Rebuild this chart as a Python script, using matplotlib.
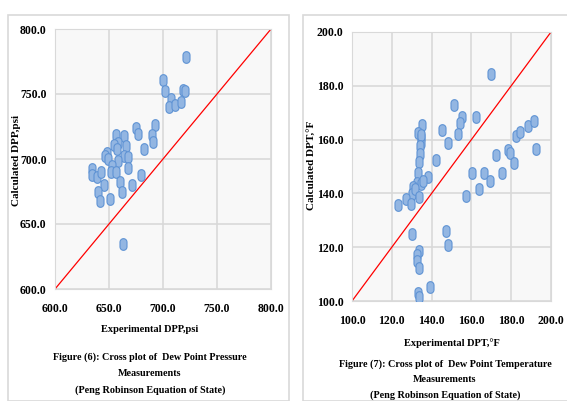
import numpy as np
import matplotlib
matplotlib.use("Agg")
import matplotlib.pyplot as plt
from matplotlib.path import Path
from matplotlib.patches import Rectangle

# Figure (6) : pression de rosée (psi)
dpp_exp = [721.3, 700.0, 701.9, 718.5, 720.0, 707.4, 705.6, 711.0, 716.7,
           675.3, 677.1, 692.6, 689.5, 690.7, 682.7, 656.8, 663.6, 658.6,
           654.3, 665.4, 648.0, 646.3, 649.4, 663.6, 667.9, 667.3, 658.6,
           652.5, 651.9, 656.8, 634.6, 633.9, 638.9, 642.6, 645.0, 640.1,
           641.4, 650.6, 659.8, 661.7, 671.6, 679.6, 663.0, 657.0]
dpp_calc = [778.5, 760.8, 752.3, 753.0, 752.5, 746.0, 740.0, 741.5, 743.8,
            723.8, 719.2, 725.9, 718.7, 713.0, 707.9, 718.7, 717.7, 712.1,
            711.0, 710.0, 705.0, 702.3, 699.8, 702.3, 701.3, 693.0, 698.7,
            695.0, 690.0, 690.0, 692.0, 687.5, 686.4, 690.0, 679.8, 675.0,
            667.5, 669.0, 682.3, 674.6, 679.8, 687.5, 634.6, 708.0]

# Figure (7) : température de rosée (°F)
dpt_exp = [170.0, 151.3, 155.3, 154.3, 162.3, 145.4, 153.3, 148.2, 142.2,
           138.2, 135.2, 133.2, 134.8, 134.5, 134.5, 134.2, 134.2, 133.9,
           133.2, 132.5, 134.5, 135.8, 130.8, 130.2, 131.5, 127.1, 129.5,
           123.1, 133.5, 130.2, 133.9, 132.5, 132.8, 133.5, 147.2, 148.2,
           139.2, 133.2, 133.9, 157.3, 160.3, 163.7, 166.3, 169.3, 172.4,
           175.4, 178.4, 179.4, 181.4, 182.4, 184.4, 188.4, 191.5, 192.5]
dpt_calc = [184.4, 172.8, 168.5, 166.3, 168.3, 163.6, 162.1, 158.6, 152.6,
            146.2, 165.3, 162.3, 161.1, 158.6, 161.8, 157.6, 154.6, 151.7,
            147.5, 144.0, 143.5, 144.5, 142.5, 139.8, 141.5, 138.0, 136.0,
            135.8, 138.8, 124.9, 118.7, 117.0, 115.0, 112.3, 126.2, 120.7,
            105.3, 103.1, 101.6, 139.0, 147.5, 141.8, 147.5, 144.7, 154.4,
            147.7, 156.1, 154.9, 151.2, 161.3, 162.8, 165.1, 166.8, 156.4]

plt.rcParams['font.family'] = ['Liberation Serif', 'DejaVu Serif']
plt.rcParams['font.weight'] = 'bold'

# marqueur en forme de pilule verticale
t = np.linspace(0, np.pi, 12)
top = np.column_stack([0.3 * np.cos(t), 0.2 + 0.3 * np.sin(t)])
bot = np.column_stack([-0.3 * np.cos(t), -0.2 - 0.3 * np.sin(t)])
verts = np.vstack([top, bot, top[:1]])
pill = Path(verts, closed=True)

W, H = 567, 401
fig = plt.figure(figsize=(W / 100, H / 100), dpi=100)

# cadres des deux figures
fig.patches.append(Rectangle((8 / W, 0), 281 / W, 1 - 15 / H, transform=fig.transFigure,
                             fill=False, edgecolor='#d9d9d9', lw=1.2))
fig.patches.append(Rectangle((303 / W, 0), 270 / W, 1 - 15 / H, transform=fig.transFigure,
                             fill=False, edgecolor='#d9d9d9', lw=1.2))


def cross_plot(rect, x, y, lo, hi, step, xlabel, ylabel, ylab_pos, xlab_pos):
    ax = fig.add_axes([rect[0] / W, 1 - (rect[1] + rect[3]) / H, rect[2] / W, rect[3] / H])
    ax.set_facecolor('#f8f8f8')
    ax.plot([lo, hi], [lo, hi], color='#ff0000', lw=0.9, zorder=2)
    ax.scatter(x, y, marker=pill, s=70, facecolor='#93b6e2', edgecolor='#5f93d4',
               linewidths=0.8, zorder=3)
    ticks = np.arange(lo, hi + step / 2, step)
    ax.set_xlim(lo, hi)
    ax.set_ylim(lo, hi)
    ax.set_xticks(ticks)
    ax.set_yticks(ticks)
    ax.set_xticklabels([f"{v:.1f}" for v in ticks], fontweight='bold')
    ax.set_yticklabels([f"{v:.1f}" for v in ticks], fontweight='bold')
    ax.grid(True, color='#d9d9d9', lw=1.2)
    ax.set_axisbelow(True)
    for s in ax.spines.values():
        s.set_color('#d9d9d9')
    ax.tick_params(length=0, labelsize=8.5)
    ax.tick_params(axis='x', pad=10)
    ax.tick_params(axis='y', pad=6)
    ax.set_xlabel(xlabel, fontsize=7.5, fontweight='bold', va='center')
    ax.set_ylabel(ylabel, fontsize=8, fontweight='bold', va='center')
    ax.yaxis.set_label_coords(ylab_pos[0] / W, 1 - ylab_pos[1] / H, transform=fig.transFigure)
    ax.xaxis.set_label_coords(xlab_pos[0] / W, 1 - xlab_pos[1] / H, transform=fig.transFigure)
    return ax


cross_plot((55, 29, 216, 260), dpp_exp, dpp_calc, 600, 800, 50,
           'Experimental DPP,psi', 'Calculated DPP,psi', (17, 160), (150, 330))
cross_plot((352, 32, 199, 269), dpt_exp, dpt_calc, 100, 200, 20,
           'Experimental DPT,°F', 'Calculated DPT,°F', (311, 165), (452, 343))

cap = dict(ha='center', va='center', fontsize=7.3, fontweight='bold')
fig.text(150 / W, 1 - 357 / H, 'Figure (6): Cross plot of  Dew Point Pressure', **cap)
fig.text(150 / W, 1 - 374 / H, 'Measurements', **cap)
fig.text(150 / W, 1 - 390 / H, '(Peng Robinson Equation of State)', **cap)
fig.text(445 / W, 1 - 364 / H, 'Figure (7): Cross plot of  Dew Point Temperature', **cap)
fig.text(445 / W, 1 - 380 / H, 'Measurements', **cap)
fig.text(445 / W, 1 - 395 / H, '(Peng Robinson Equation of State)', **cap)

fig.savefig('out.png', dpi=100)
